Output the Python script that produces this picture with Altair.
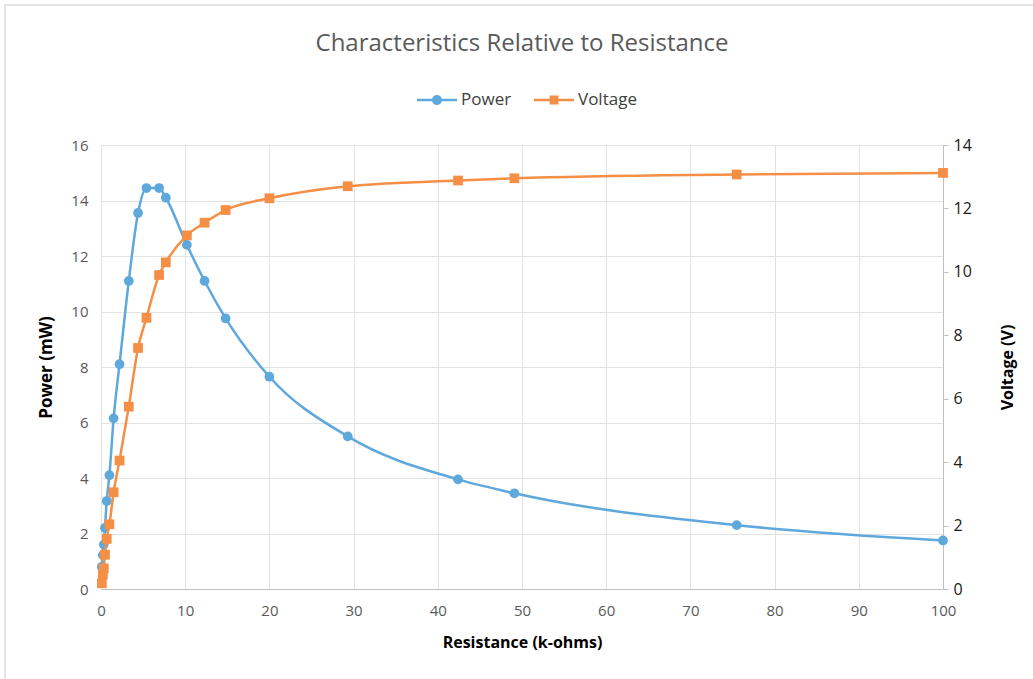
import altair as alt
import pandas as pd

# Data
resistance = [0.1, 0.22, 0.33, 0.47, 0.68, 1.0, 1.5, 2.2, 3.3, 4.4, 5.4, 6.9, 7.7,
              10.2, 12.3, 14.8, 20.0, 29.3, 42.4, 49.1, 75.5, 100.0]
power = [0.8, 1.22, 1.6, 2.2, 3.17, 4.1, 6.15, 8.1, 11.1, 13.55, 14.45, 14.45, 14.1,
         12.4, 11.1, 9.75, 7.65, 5.5, 3.95, 3.45, 2.3, 1.75]
voltage = [0.18, 0.45, 0.65, 1.08, 1.58, 2.04, 3.05, 4.05, 5.75, 7.6, 8.55, 9.9, 10.3,
           11.15, 11.55, 11.95, 12.32, 12.7, 12.88, 12.95, 13.07, 13.12]
series_names = ["Power", "Voltage"]
x_ticks = list(range(0, 101, 10))
power_ticks = list(range(0, 17, 2))
voltage_ticks = list(range(0, 15, 2))

df = pd.DataFrame({"R": resistance, "P": power, "V": voltage})

BLUE = "#5ea8dc"
ORANGE = "#f48f45"
FONT = "Open Sans"
GRID = "#e2e2e2"
W, H = 842, 444

x_enc = alt.X(
    "R:Q",
    scale=alt.Scale(domain=[0, 100], nice=False),
    axis=alt.Axis(
        values=x_ticks, title="Resistance (k-ohms)", grid=True, gridColor=GRID,
        domainColor="#bfbfbf", ticks=False, labelColor="#595959", labelFontSize=15,
        labelPadding=14, labelFlush=False, titleFontSize=16, titleFontWeight="bold",
        titleColor="#000000", titleY=53, titleBaseline="middle",
        labelFont=FONT, titleFont=FONT,
    ),
)

yP = alt.Y(
    "P:Q",
    scale=alt.Scale(domain=[0, 16], nice=False),
    axis=alt.Axis(
        values=power_ticks, title="Power (mW)", orient="left", grid=True, gridColor=GRID,
        domain=False, ticks=False, labelColor="#595959", labelFontSize=15, labelPadding=13,
        titleFontSize=17, titleFontWeight="bold", titleColor="#000000",
        titleX=-55, titleY=H / 2, titleAngle=270, titleBaseline="middle",
        labelFont=FONT, titleFont=FONT,
    ),
)

yV = alt.Y(
    "V:Q",
    scale=alt.Scale(domain=[0, 14], nice=False),
    axis=alt.Axis(
        values=voltage_ticks, title="Voltage (V)", orient="right", grid=False,
        domainColor="#bfbfbf", tickColor="#bfbfbf", tickSize=5, labelColor="#1a1a1a",
        labelFontSize=16, labelPadding=5, titleFontSize=16, titleFontWeight="bold",
        titleColor="#000000", titleX=64, titleY=H / 2, titleAngle=270,
        titleBaseline="middle", labelFont=FONT, titleFont=FONT,
    ),
)

circle_path = ("M-1,-0.06H-0.22V0.06H-1Z M0.22,-0.06H1V0.06H0.22Z "
               "M0.25,0A0.25,0.25 0 1,1 -0.25,0A0.25,0.25 0 1,1 0.25,0Z")
square_path = ("M-1,-0.06H-0.2V0.06H-1Z M0.2,-0.06H1V0.06H0.2Z "
               "M-0.22,-0.22H0.22V0.22H-0.22Z")

legend = alt.Legend(
    title=None, orient="none", legendX=316, legendY=-65, direction="horizontal",
    symbolType=alt.ExprRef(expr=f"datum.value === 'Power' ? '{circle_path}' : '{square_path}'"),
    symbolSize=1600, symbolStrokeWidth=0, symbolOpacity=1,
    labelFontSize=17, labelColor="#404040", labelFont=FONT,
    columnPadding=22, labelOffset=4, padding=0,
)
color_scale = alt.Scale(domain=series_names, range=[BLUE, ORANGE])

base = alt.Chart(df)

power_line = base.mark_line(interpolate="monotone", color=BLUE, strokeWidth=2.5).encode(x=x_enc, y=yP)
power_pts = base.transform_calculate(series="'Power'").mark_point(
    shape="circle", filled=True, size=95, opacity=1
).encode(x=x_enc, y=yP, color=alt.Color("series:N", scale=color_scale, legend=legend))

volt_line = base.mark_line(interpolate="monotone", color=ORANGE, strokeWidth=2.5).encode(x=x_enc, y=yV)
volt_pts = base.transform_calculate(series="'Voltage'").mark_point(
    shape="square", filled=True, size=95, opacity=1
).encode(x=x_enc, y=yV, color=alt.Color("series:N", scale=color_scale, legend=legend))

left = alt.layer(power_line, power_pts)
right = alt.layer(volt_line, volt_pts)

# light outer frame of the chart area (decoration)
frame = alt.Chart(pd.DataFrame({"f": [0]})).mark_rect(
    fillOpacity=0, stroke="#e4e4e4", strokeWidth=2
).encode(x=alt.value(-96), x2=alt.value(W + 120), y=alt.value(-140), y2=alt.value(H + 120))

chart = (
    alt.layer(left, right, frame)
    .resolve_scale(y="independent")
    .properties(
        width=W, height=H,
        title=alt.TitleParams(
            "Characteristics Relative to Resistance", fontSize=24, font=FONT,
            color="#595959", fontWeight="normal", anchor="middle", frame="group",
            baseline="middle", offset=-64,
        ),
        padding={"left": 101, "top": 145, "right": 90, "bottom": 90},
        autosize=alt.AutoSizeParams(type="none"),
        background="white",
    )
    .configure_view(stroke=None)
)

chart.save("out.html", embed_options={"renderer": "svg", "actions": False})
